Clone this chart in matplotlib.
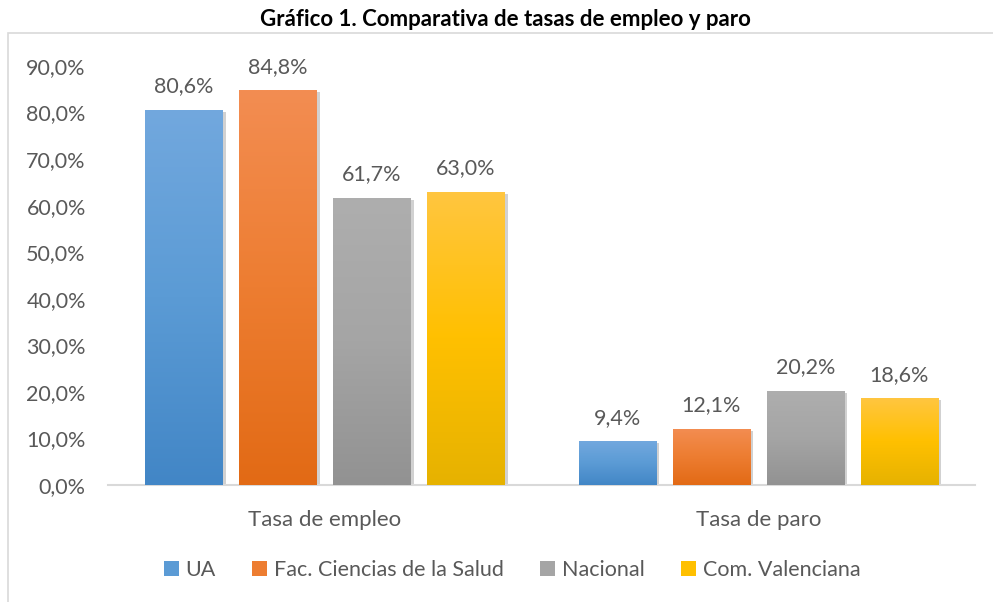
import matplotlib
matplotlib.use("Agg")
import matplotlib.pyplot as plt
import numpy as np
from matplotlib.patches import Rectangle, Patch
from matplotlib.colors import LinearSegmentedColormap
import matplotlib.patheffects as pe

categories = ["Tasa de empleo", "Tasa de paro"]
series_names = ["UA", "Fac. Ciencias de la Salud", "Nacional", "Com. Valenciana"]
ua = [80.6, 9.4]
fac = [84.8, 12.1]
nacional = [61.7, 20.2]
comval = [63.0, 18.6]
values = [ua, fac, nacional, comval]
yticks = [0, 10, 20, 30, 40, 50, 60, 70, 80, 90]
title = "Gráfico 1. Comparativa de tasas de empleo y paro"

top_colors = ["#72A8DE", "#F38D52", "#AEAEAE", "#FFC640"]
mid_colors = ["#5B9BD5", "#ED7D31", "#A5A5A5", "#FFC000"]
bot_colors = ["#4286C6", "#E26A15", "#929292", "#E6B200"]

FONT = "Lato"
TXT = "#595959"
W, H = 993, 602
fig = plt.figure(figsize=(W / 100, H / 100), dpi=100)
fig.patch.set_facecolor("white")

# outer chart border
fig.patches.append(Rectangle((8 / W, -0.05), 1.2, 1 - 33 / H + 0.05, transform=fig.transFigure,
                             fill=False, edgecolor="#D9D9D9", linewidth=1.2, zorder=0))

ax = fig.add_axes([108 / W, 1 - 485 / H, (975 - 108) / W, (485 - 66) / H])
ax.set_xlim(-0.5, 1.5)
ax.set_ylim(0, 90)
for s in ["top", "right", "left"]:
    ax.spines[s].set_visible(False)
ax.spines["bottom"].set_color("#D9D9D9")
ax.spines["bottom"].set_linewidth(1.5)
ax.set_yticks(yticks)
ax.set_yticklabels([f"{t:.1f}%".replace(".", ",") for t in yticks], fontfamily=FONT, fontsize=15.5, color=TXT)
ax.tick_params(axis="y", length=0, pad=16)
ax.set_xticks(range(len(categories)))
ax.set_xticklabels(categories, fontfamily=FONT, fontsize=16, color=TXT)
ax.tick_params(axis="x", length=0, pad=18)

bw = 0.178
step = 0.217
x = np.arange(len(categories))
for i, (vals, name) in enumerate(zip(values, series_names)):
    cmap = LinearSegmentedColormap.from_list(name, [bot_colors[i], mid_colors[i], top_colors[i]])
    offs = (i - 1.5) * step
    bars = ax.bar(x + offs, vals, width=bw, color=mid_colors[i], zorder=2,
                  path_effects=[pe.SimplePatchShadow(offset=(2.5, -1.5), shadow_rgbFace="#000000", alpha=0.18),
                                pe.Normal()])
    for b, v in zip(bars, vals):
        x0 = b.get_x()
        grad = np.linspace(0, 1, 256).reshape(-1, 1)
        im = ax.imshow(grad, cmap=cmap, origin="lower", aspect="auto",
                       extent=[x0, x0 + bw, 0, v], zorder=3, interpolation="bilinear")
        im.set_clip_path(b)
        ax.text(x0 + bw / 2, v + 2.9, f"{v:.1f}%".replace(".", ","), ha="center", va="bottom",
                fontfamily=FONT, fontsize=15.5, color=TXT, zorder=4)
ax.set_xlim(-0.5, 1.5)
ax.set_ylim(0, 90)

fig.text(505 / W, 1 - 19 / H, title, ha="center", va="center", fontfamily=FONT,
         fontweight="bold", fontsize=16, color="#000000")

handles = [Patch(facecolor=mid_colors[i], edgecolor="none") for i in range(4)]
leg = fig.legend(handles, series_names, loc="center", bbox_to_anchor=(512 / W, 1 - 570 / H),
                 ncol=4, frameon=False, prop={"family": FONT, "size": 15.5},
                 handlelength=0.7, handleheight=0.7, handletextpad=0.3, columnspacing=1.7)
for t in leg.get_texts():
    t.set_color(TXT)

fig.savefig("out.png", dpi=100, facecolor="white")
